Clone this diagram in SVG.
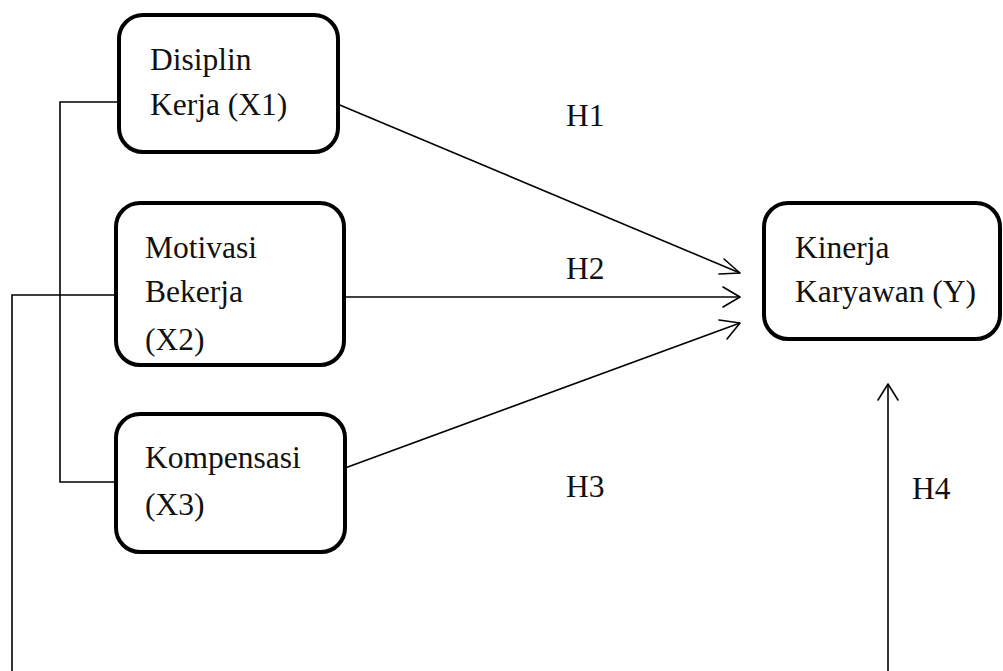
<svg xmlns="http://www.w3.org/2000/svg" width="1003" height="671" viewBox="0 0 1003 671">
<style>
.box{fill:#fff;stroke:#000;stroke-width:4}
.t{font-family:"Liberation Serif","Times New Roman",serif;font-size:31.5px;fill:#111}
.c{fill:none;stroke:#000;stroke-width:1.6}
.h{fill:none;stroke:#000;stroke-width:1.6;stroke-linecap:round;stroke-linejoin:round}
</style>
<rect width="1003" height="671" fill="#fff"/>
<g id="connectors">
<polyline class="c" points="118,102 60,102 60,482 116,482"/>
<polyline class="c" points="116,295 12,295 12,671"/>
<line class="c" x1="335" y1="103" x2="740" y2="273"/>
<polyline class="h" points="724,259 740,273 719,274"/>
<line class="c" x1="345" y1="297" x2="740" y2="297"/>
<polyline class="h" points="723,287 740,297 723,307"/>
<line class="c" x1="345" y1="468" x2="740" y2="323"/>
<polyline class="h" points="719,320 740,323 727,339"/>
<line class="c" x1="888" y1="671" x2="888" y2="384" stroke-width="2"/>
<polyline class="h" points="878,400 888,384 898,400" stroke-width="2"/>
<text class="t" x="566" y="126">H1</text>
<text class="t" x="566" y="279">H2</text>
<text class="t" x="566" y="497">H3</text>
<text class="t" x="912" y="499">H4</text>
</g>
<g id="x1">
<rect class="box" x="119" y="15" width="219" height="137" rx="24"/>
<text class="t" x="150" y="70">Disiplin</text>
<text class="t" x="150" y="115">Kerja (X1)</text>
</g>
<g id="x2">
<rect class="box" x="116" y="203" width="228" height="162" rx="24"/>
<text class="t" x="145" y="258">Motivasi</text>
<text class="t" x="145" y="302">Bekerja</text>
<text class="t" x="145" y="350">(X2)</text>
</g>
<g id="x3">
<rect class="box" x="116" y="414" width="229" height="138" rx="24"/>
<text class="t" x="145" y="468">Kompensasi</text>
<text class="t" x="145" y="515">(X3)</text>
</g>
<g id="y">
<rect class="box" x="764" y="203" width="236" height="136" rx="24"/>
<text class="t" x="795" y="258">Kinerja</text>
<text class="t" x="795" y="302">Karyawan (Y)</text>
</g>
</svg>
